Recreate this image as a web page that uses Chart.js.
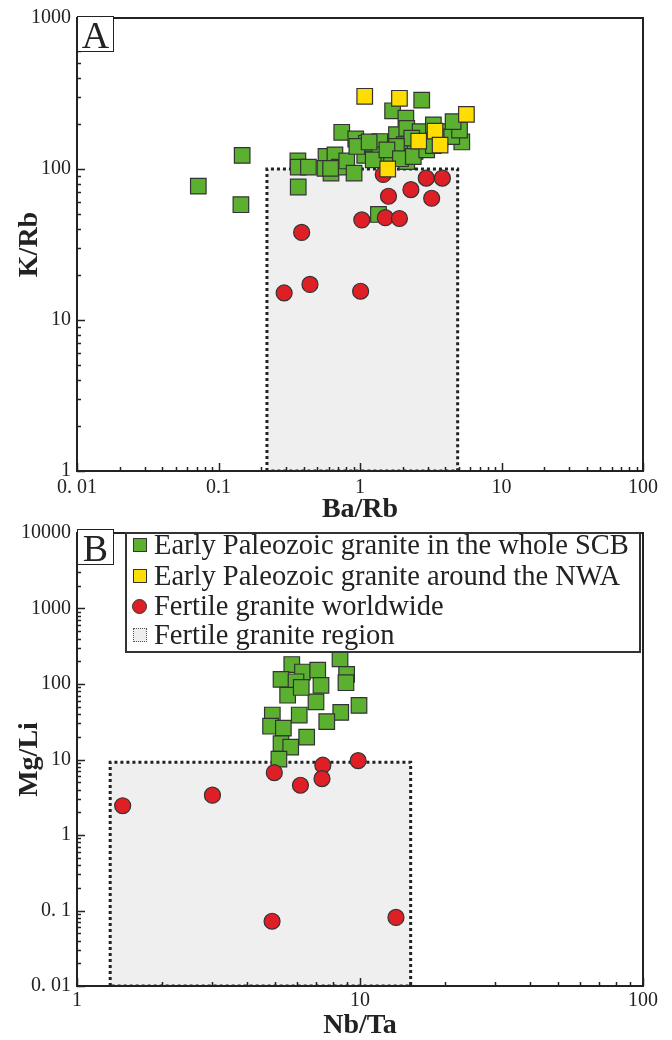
<!DOCTYPE html>
<html>
<head>
<meta charset="utf-8">
<script src="https://cdn.jsdelivr.net/npm/chart.js@4.4.1/dist/chart.umd.min.js"></script>
<style>
  body { margin: 0; background: #fff; width: 672px; height: 1040px; position: relative; overflow: hidden; font-family: "Liberation Serif", "Times New Roman", serif; color: #222; }
  canvas { position: absolute; left: 0; }
  #chartA { top: 0; }
  #chartB { top: 515px; }
  .tag { position: absolute; left: 77px; width: 37px; height: 36px; border: 1.5px solid #222; box-sizing: border-box; background: #fff; font-size: 38px; line-height: 36px; text-align: center; }
  .legend { position: absolute; left: 125px; top: 532px; width: 516px; height: 121px; border: 2px solid #333; box-sizing: border-box; background: #fff; }
  .row { position: absolute; left: 0; height: 30px; line-height: 30px; font-size: 28.5px; white-space: nowrap; }
  .row span.txt { position: absolute; left: 27px; top: 0; }
  .mk { position: absolute; left: 6px; top: 8px; width: 14px; height: 14px; box-sizing: border-box; }
</style>
</head>
<body>
<canvas id="chartA" width="672" height="524"></canvas>
<canvas id="chartB" width="672" height="525"></canvas>
<div class="tag" style="top:16px">A</div>
<div class="tag" style="top:529px">B</div>
<div class="legend">
  <div class="row" style="top:-4px"><span class="mk" style="background:#5cb030;border:1px solid #333"></span><span class="txt">Early Paleozoic granite in the whole SCB</span></div>
  <div class="row" style="top:27px"><span class="mk" style="background:#ffdd00;border:1px solid #333"></span><span class="txt">Early Paleozoic granite around the NWA</span></div>
  <div class="row" style="top:57px"><span class="mk" style="background:#de1f26;border:1px solid #333;border-radius:50%;width:15px;height:15px;left:5px"></span><span class="txt">Fertile granite worldwide</span></div>
  <div class="row" style="top:86px"><span class="mk" style="background:#eee;border:1.5px dotted #555"></span><span class="txt">Fertile granite region</span></div>
</div>
<script>
// Panel A : Ba/Rb vs K/Rb
const aGreenX = [0.072, 0.147, 0.144, 0.366, 0.364, 0.366, 0.432, 0.575, 0.665, 0.566, 0.624, 0.714, 0.806, 0.908, 0.743, 0.933, 1.08, 1.11, 1.38, 1.38, 1.24, 1.67, 1.81, 1.70, 2.11, 2.73, 2.14, 2.05, 2.45, 2.66, 3.30, 4.10, 4.57, 4.96, 5.24, 3.67, 4.45, 2.32, 1.81, 1.55, 1.35, 0.95, 1.16, 2.14, 1.93, 2.38, 2.96, 3.30, 5.05, 4.55, 0.62];
const aGreenY = [77, 123, 58, 76, 113, 103, 103, 121, 124, 101, 94, 103, 113, 94, 175, 158, 123, 148, 152, 124, 115, 126, 169, 243, 217, 286, 186, 145, 131, 177, 196, 177, 196, 177, 151, 160, 164, 160, 141, 134, 50, 141, 151, 112, 117, 121, 134, 143, 181, 206, 101];
const aYellowX = [1.08, 1.90, 5.65, 3.39, 2.60, 3.68, 1.57];
const aYellowY = [303, 294, 230, 178, 153, 144, 100];
const aRedX = [1.46, 2.94, 3.82, 1.59, 2.29, 3.21, 1.03, 1.51, 1.90, 0.387, 0.291, 0.443, 1.01];
const aRedY = [92, 87, 87, 66, 73, 64, 46, 47.6, 47, 38, 15.1, 17.2, 15.5];
const aRegionX = [0.22, 4.9];
const aRegionY = [1, 100];
const aXDecades = [0.01, 0.1, 1, 10, 100];
const aXLabels = ["0. 01", "0.1", "1", "10", "100"];
const aYDecades = [1, 10, 100, 1000];
const aYLabels = ["1", "10", "100", "1000"];

// Panel B : Nb/Ta vs Mg/Li
const bGreenX = [8.5, 8.97, 8.92, 5.74, 5.26, 6.26, 5.94, 7.09, 7.28, 5.55, 6.99, 9.92, 8.55, 7.63, 6.10, 4.90, 4.83, 5.36, 6.48, 5.26, 5.69, 5.17, 6.2];
const bGreenY = [215, 134, 104, 181, 115, 144, 107, 153, 96, 71, 58, 52, 42, 31.8, 38.8, 38.8, 27.6, 26, 19.8, 16.2, 14.6, 10.1, 90];
const bRedX = [1.45, 3.01, 4.98, 6.16, 7.39, 7.34, 9.85, 4.89, 13.4];
const bRedY = [2.44, 3.37, 6.7, 4.56, 8.4, 5.58, 9.66, 0.072, 0.081];
const bRegionX = [1.31, 15.1];
const bRegionY = [0.01, 9.2];
const bXDecades = [1, 10, 100];
const bXLabels = ["1", "10", "100"];
const bYDecades = [0.01, 0.1, 1, 10, 100, 1000, 10000];
const bYLabels = ["0. 01", "0. 1", "1", "10", "100", "1000", "10000"];

const SERIF = "'Liberation Serif', 'Times New Roman', serif";
const GREEN = "#5cb030", YELLOW = "#ffdd00", RED = "#de1f26", EDGE = "#333";

const toPoints = (xs, ys) => xs.map((x, i) => ({ x: x, y: ys[i] }));
const boxPoints = (bx, by) => [
  { x: bx[0], y: by[0] }, { x: bx[0], y: by[1] }, { x: bx[1], y: by[1] },
  { x: bx[1], y: by[0] }, { x: bx[0], y: by[0] }
];

// log ticks : decades are major (labelled), 2..9 are minor
function logTicks(decades, labels) {
  const out = [];
  decades.forEach((d, i) => {
    out.push({ value: d, major: true, txt: labels[i] });
    if (i < decades.length - 1) {
      for (let k = 2; k <= 9; k++) out.push({ value: +(d * k).toPrecision(6), major: false, txt: "" });
    }
  });
  return out;
}

// frame round the plot and inward tick marks
const frame = {
  id: "frame",
  afterDraw(chart) {
    const { ctx, chartArea: a, scales } = chart;
    ctx.save();
    ctx.strokeStyle = "#222";
    ctx.lineWidth = 1.5;
    ctx.beginPath();
    scales.x.ticks.forEach(t => {
      const p = Math.round(scales.x.getPixelForValue(t.value)) + 0.5;
      ctx.moveTo(p, a.bottom);
      ctx.lineTo(p, a.bottom - (t.major ? 8 : 4));
    });
    scales.y.ticks.forEach(t => {
      const p = Math.round(scales.y.getPixelForValue(t.value)) + 0.5;
      ctx.moveTo(a.left, p);
      ctx.lineTo(a.left + (t.major ? 8 : 4), p);
    });
    ctx.stroke();
    ctx.lineWidth = 2;
    ctx.strokeRect(a.left, a.top, a.right - a.left, a.bottom - a.top);
    ctx.restore();
  }
};

function scatterSet(data, color, style, radius, order) {
  return {
    data: data, order: order,
    pointStyle: style, pointRadius: radius, pointHoverRadius: radius,
    backgroundColor: color, borderColor: EDGE, borderWidth: 1.2
  };
}

function regionSet(bx, by) {
  return {
    type: "line", data: boxPoints(bx, by), order: 5,
    fill: "shape", backgroundColor: "#efefef",
    borderColor: "#222", borderWidth: 3, borderDash: [3, 3], borderCapStyle: "butt",
    pointRadius: 0, tension: 0
  };
}

function makeAxis(decades, labels, title, extra) {
  return Object.assign({
    type: "logarithmic",
    min: decades[0], max: decades[decades.length - 1],
    grid: { display: false, drawTicks: false },
    border: { display: false },
    afterBuildTicks: s => { s.ticks = logTicks(decades, labels); },
    ticks: {
      autoSkip: false, maxRotation: 0, color: "#222",
      font: { family: SERIF, size: 20 },
      callback: (v, i, t) => t[i].txt
    },
    title: { display: true, text: title, color: "#222", font: { family: SERIF, size: 28, weight: "bold", lineHeight: 1 } }
  }, extra);
}

function panel(id, datasets, xAxis, yAxis, padTop) {
  return new Chart(document.getElementById(id), {
    type: "scatter",
    data: { datasets: datasets },
    options: {
      responsive: false,
      animation: false,
      layout: { padding: { top: padTop, right: 29, left: 0, bottom: 0 } },
      plugins: { legend: { display: false }, tooltip: { enabled: false } },
      scales: { x: xAxis, y: yAxis }
    },
    plugins: [frame]
  });
}

const xA = makeAxis(aXDecades, aXLabels, "Ba/Rb", { afterFit: s => { s.height = 53; } });
xA.ticks.padding = 5; xA.title.padding = 0;
const yA = makeAxis(aYDecades, aYLabels, "K/Rb", { afterFit: s => { s.width = 77; } });
yA.ticks.padding = 6; yA.title.padding = { top: 16, bottom: 0 };

panel("chartA", [
  scatterSet(toPoints(aYellowX, aYellowY), YELLOW, "rect", 11, 0),
  scatterSet(toPoints(aRedX, aRedY), RED, "circle", 8, 1),
  scatterSet(toPoints(aGreenX, aGreenY), GREEN, "rect", 11, 2),
  regionSet(aRegionX, aRegionY)
], xA, yA, 16);

const xB = makeAxis(bXDecades, bXLabels, "Nb/Ta", { afterFit: s => { s.height = 54; } });
xB.ticks.padding = 3; xB.title.padding = 0;
const yB = makeAxis(bYDecades, bYLabels, "Mg/Li", { afterFit: s => { s.width = 77; } });
yB.ticks.padding = 6; yB.title.padding = { top: 16, bottom: 0 };

panel("chartB", [
  scatterSet(toPoints(bRedX, bRedY), RED, "circle", 8, 1),
  scatterSet(toPoints(bGreenX, bGreenY), GREEN, "rect", 11, 2),
  regionSet(bRegionX, bRegionY)
], xB, yB, 14);
</script>
</body>
</html>
